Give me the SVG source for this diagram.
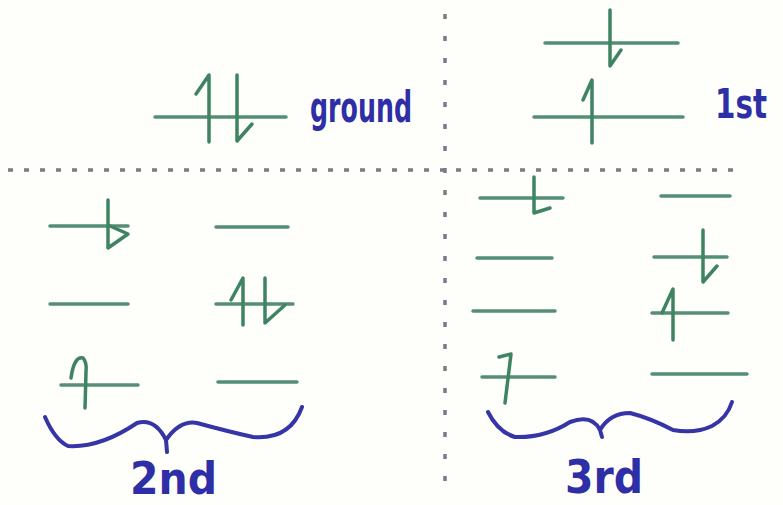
<svg xmlns="http://www.w3.org/2000/svg" width="783" height="505" viewBox="0 0 783 505">
  <style>
    .lvl{stroke:#548f75;stroke-width:3.5;stroke-linecap:round;fill:none}
    .spin{stroke:#3f8462;stroke-width:3.5;stroke-linecap:round;stroke-linejoin:round;fill:none}
    .brace{stroke:#3535a8;stroke-width:4;stroke-linecap:round;stroke-linejoin:round;fill:none}
    .lbl{fill:#2e2ea6;font-weight:bold;font-family:"Liberation Sans Narrow","DejaVu Sans Condensed","Liberation Sans",sans-serif}
    .div{stroke:#7a7a88;stroke-width:3.5;fill:none}
  </style>
  <rect width="783" height="505" fill="#fefefb"/>
  <g id="dividers">
    <line class="div" x1="8" y1="170" x2="742" y2="170" stroke-dasharray="5 11"/>
    <line class="div" x1="445" y1="14" x2="445" y2="492" stroke-dasharray="5 17"/>
  </g>
  <g id="ground">
    <line class="lvl" x1="155" y1="117" x2="286" y2="117"/>
    <path class="spin" d="M196,94 L209,75 L209,142"/>
    <path class="spin" d="M237,75 L237,141 L252,124"/>
    <text class="lbl" x="310" y="122" font-size="42" textLength="102" lengthAdjust="spacingAndGlyphs">ground</text>
  </g>
  <g id="first">
    <line class="lvl" x1="545" y1="43" x2="678" y2="43"/>
    <path class="spin" d="M610,10 L610,66 L621,50"/>
    <line class="lvl" x1="534" y1="117" x2="683" y2="117"/>
    <path class="spin" d="M583,100 L592,80 L592,143"/>
    <text class="lbl" x="715" y="118" font-size="40" textLength="52" lengthAdjust="spacingAndGlyphs">1st</text>
  </g>
  <g id="second">
    <line class="lvl" x1="50" y1="226" x2="128" y2="226"/>
    <path class="spin" d="M108,200 L108,248 L128,234 L110,226"/>
    <line class="lvl" x1="216" y1="227" x2="288" y2="227"/>
    <line class="lvl" x1="50" y1="304" x2="128" y2="304"/>
    <line class="lvl" x1="216" y1="304" x2="293" y2="304"/>
    <path class="spin" d="M231,300 L243,278 L243,325"/>
    <path class="spin" d="M265,278 L265,323 L285,305"/>
    <line class="lvl" x1="61" y1="385" x2="138" y2="385"/>
    <path class="spin" d="M71,378 Q74,356 83,358 Q87,362 86,372 L85,408"/>
    <line class="lvl" x1="218" y1="382" x2="297" y2="382"/>
    <path class="brace" d="M45,417 Q55,440 68,446 Q100,448 137,423 Q155,418 166,440 L167,452 M166,440 Q180,420 197,423 Q230,432 253,437 Q290,440 302,407"/>
    <text class="lbl" x="130" y="494" font-size="45" textLength="87" lengthAdjust="spacingAndGlyphs">2nd</text>
  </g>
  <g id="third">
    <line class="lvl" x1="480" y1="198" x2="563" y2="198"/>
    <path class="spin" d="M534,177 L534,213 L550,208"/>
    <line class="lvl" x1="661" y1="196" x2="730" y2="196"/>
    <line class="lvl" x1="477" y1="258" x2="552" y2="258"/>
    <line class="lvl" x1="654" y1="257" x2="727" y2="257"/>
    <path class="spin" d="M703,230 L703,282 L717,266"/>
    <line class="lvl" x1="473" y1="311" x2="555" y2="311"/>
    <line class="lvl" x1="652" y1="313" x2="728" y2="313"/>
    <path class="spin" d="M662,313 L673,289 L673,340"/>
    <line class="lvl" x1="482" y1="377" x2="555" y2="377"/>
    <path class="spin" d="M499,357 L511,354 L505,403"/>
    <line class="lvl" x1="652" y1="374" x2="747" y2="374"/>
    <path class="brace" d="M488,412 Q498,432 515,437 Q545,438 570,422 Q592,414 600,430 L602,437 M600,430 Q610,413 630,413 Q650,418 673,430 Q695,434 712,426 Q727,418 732,402"/>
    <text class="lbl" x="565" y="493" font-size="46" textLength="78" lengthAdjust="spacingAndGlyphs">3rd</text>
  </g>
</svg>
